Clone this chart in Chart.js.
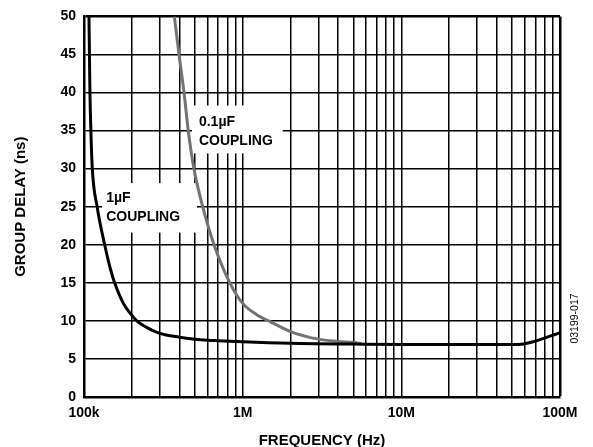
<!DOCTYPE html>
<html>
<head>
<meta charset="utf-8">
<script src="https://cdn.jsdelivr.net/npm/chart.js@4.4.1/dist/chart.umd.min.js"></script>
<style>
  html, body { margin: 0; padding: 0; background: #fff; }
  canvas { display: block; }
</style>
</head>
<body>
<canvas id="delayChart" width="593" height="447"></canvas>
<script>
// frequency decades shown as labels on the x axis
const decades = [1e5, 1e6, 1e7, 1e8];
const xTickLabels = ["100k", "1M", "10M", "100M"];
const yTicks = [0, 5, 10, 15, 20, 25, 30, 35, 40, 45, 50];

// 1uF coupling (black)
const freq1uF = [107.5e3, 109e3, 110.5e3, 112.8e3, 121e3, 135e3, 147e3, 156e3, 177e3, 200e3, 215e3, 248e3, 300e3, 400e3, 500e3, 600e3, 700e3, 1e6, 2e6, 5e6, 10e6, 30e6, 55e6, 65e6, 100e6];
const delay1uF = [50, 40, 35, 30, 25, 20, 16.75, 15, 12.3, 10.75, 10, 9.15, 8.35, 7.85, 7.6, 7.47, 7.4, 7.25, 7.05, 6.95, 6.9, 6.9, 6.9, 7.15, 8.45];

// 0.1uF coupling (grey)
const freq01uF = [371e3, 397e3, 427e3, 454e3, 493e3, 560e3, 660e3, 830e3, 1e6, 1.22e6, 1.49e6, 2e6, 3e6, 4e6, 5e6, 5.6e6];
const delay01uF = [50, 45, 40, 35, 30, 25, 20, 15, 12.3, 10.85, 9.9, 8.6, 7.6, 7.3, 7.15, 7.0];

function toPoints(xs, ys) {
  return xs.map((x, i) => ({ x: x, y: ys[i] }));
}

// grid lines at 1..9 of every decade
const xGrid = [];
decades.forEach((d, i) => {
  if (i === decades.length - 1) { xGrid.push(d); return; }
  for (let m = 1; m <= 9; m++) xGrid.push(d * m);
});

const FONT = "'Liberation Sans', Arial, sans-serif";

const labelBoxes = {
  id: "labelBoxes",
  beforeDatasetsDraw(chart) {
    const { ctx, scales } = chart;
    const x = scales.x, y = scales.y;
    const boxes = [
      { x0: 130e3, x1: 515e3, y0: 28.1, y1: 21.6, tx: 138e3, lines: ["1µF", "COUPLING"], ty: [198, 217] },
      { x0: 479e3, x1: 1.79e6, y0: 38.3, y1: 32.0, tx: 530e3, lines: ["0.1µF", "COUPLING"], ty: [122, 141] }
    ];
    ctx.save();
    boxes.forEach(b => {
      const l = x.getPixelForValue(b.x0), r = x.getPixelForValue(b.x1);
      const t = y.getPixelForValue(b.y0), btm = y.getPixelForValue(b.y1);
      ctx.fillStyle = "#fff";
      ctx.fillRect(l, t, r - l, btm - t);
      ctx.fillStyle = "#000";
      ctx.font = "bold 14px " + FONT;
      ctx.textBaseline = "middle";
      ctx.textAlign = "left";
      const tx = x.getPixelForValue(b.tx);
      b.lines.forEach((s, i) => ctx.fillText(s, tx, b.ty[i]));
    });
    ctx.restore();
  },
  afterDraw(chart) {
    const ctx = chart.ctx;
    ctx.save();
    ctx.translate(575.5, 318.5);
    ctx.rotate(-Math.PI / 2);
    ctx.font = "10.5px " + FONT;
    ctx.fillStyle = "#000";
    ctx.textAlign = "center";
    ctx.textBaseline = "middle";
    ctx.fillText("03199-017", 0, 0);
    ctx.restore();
  }
};

new Chart(document.getElementById("delayChart"), {
  type: "line",
  data: {
    datasets: [
      {
        label: "1µF COUPLING",
        data: toPoints(freq1uF, delay1uF),
        borderColor: "#000",
        borderWidth: 3,
        pointRadius: 0,
        cubicInterpolationMode: "monotone",
        fill: false
      },
      {
        label: "0.1µF COUPLING",
        data: toPoints(freq01uF, delay01uF),
        borderColor: "#737373",
        borderWidth: 3,
        pointRadius: 0,
        cubicInterpolationMode: "monotone",
        fill: false
      }
    ]
  },
  options: {
    responsive: false,
    animation: false,
    devicePixelRatio: 1,
    layout: { padding: { left: 0, top: 16, right: 33, bottom: 0 } },
    plugins: {
      legend: { display: false },
      tooltip: { enabled: false }
    },
    scales: {
      x: {
        type: "logarithmic",
        min: 1e5,
        max: 1e8,
        afterBuildTicks: scale => {
          scale.ticks = xGrid.map(v => ({ value: v }));
        },
        afterFit: scale => { scale.height = 50; },
        ticks: {
          autoSkip: false,
          maxRotation: 0,
          padding: 8,
          color: "#000",
          font: { family: FONT, size: 14, weight: "bold" },
          callback: value => {
            const i = decades.findIndex(d => Math.abs(d - value) < d * 1e-6);
            return i >= 0 ? xTickLabels[i] : "";
          }
        },
        grid: {
          color: "#000",
          drawTicks: false,
          lineWidth: c => (c.tick && c.tick.value === 1e8 ? 2.5 : 1.5)
        },
        border: { color: "#000", width: 2.5 },
        title: {
          display: true,
          text: "FREQUENCY (Hz)",
          color: "#000",
          font: { family: FONT, size: 15, weight: "bold" },
          padding: { top: 0, bottom: -3 }
        }
      },
      y: {
        min: 0,
        max: 50,
        afterBuildTicks: scale => {
          scale.ticks = yTicks.map(v => ({ value: v }));
        },
        afterFit: scale => { scale.width = 84; },
        ticks: {
          padding: 8,
          color: "#000",
          font: { family: FONT, size: 14, weight: "bold" }
        },
        grid: {
          color: "#000",
          drawTicks: false,
          lineWidth: c => (c.tick && c.tick.value === 50 ? 2.5 : 1.5)
        },
        border: { color: "#000", width: 2.5 },
        title: {
          display: true,
          text: "GROUP DELAY (ns)",
          color: "#000",
          font: { family: FONT, size: 15, weight: "bold" },
          padding: { top: 12, bottom: 0 }
        }
      }
    }
  },
  plugins: [labelBoxes]
});
</script>
</body>
</html>
